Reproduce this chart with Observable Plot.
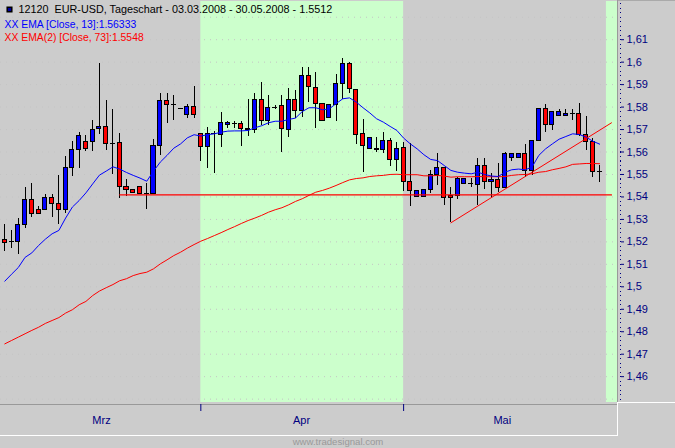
<!DOCTYPE html>
<html><head><meta charset="utf-8">
<script src="https://cdn.jsdelivr.net/npm/d3@7"></script>
<script src="https://cdn.jsdelivr.net/npm/@observablehq/plot@0.6"></script>
<style>
html,body{margin:0;padding:0;background:#ccc;overflow:hidden}
#wrap{position:relative;width:675px;height:448px;background:#ccc}
#wrap svg{position:absolute;left:0;top:0;background:transparent}
.c{position:absolute}
</style></head><body><div id="wrap">
<div class="c" style="left:617px;top:0;width:1px;height:402px;background:#999"></div>
<div class="c" style="left:618px;top:0;width:57px;height:1px;background:#aaa"></div>
<div class="c" style="left:0;top:404px;width:617px;height:1px;background:#999"></div>
<div class="c" style="left:0;top:435px;width:618px;height:1px;background:#fff"></div>
<div class="c" style="left:617px;top:402px;width:1px;height:34px;background:#fff"></div>
<div class="c" style="left:618px;top:402px;width:57px;height:1px;background:#fff"></div>
</div>
<script>
const opens=[1.5209,1.5200,1.5199,1.5274,1.5387,1.5343,1.5341,1.5396,1.5369,1.5341,1.5530,1.5610,1.5645,1.5645,1.5703,1.5712,1.5638,1.5641,1.5445,1.5432,1.5445,1.5414,1.5414,1.5628,1.5828,1.5810,1.5792,1.5766,1.5801,
1.5681,1.5623,1.5681,1.5677,1.5721,1.5728,1.5726,1.5703,1.5699,1.5832,1.5737,1.5797,1.5806,1.5699,1.5832,1.5783,1.5939,1.5886,1.5815,1.5752,1.5810,1.5904,1.5993,1.5877,1.5681,1.5614,1.5614,1.5610,1.5650,1.5564,
1.5619,1.5467,1.5401,1.5401,1.5432,1.5499,1.5530,1.5405,1.5405,1.5458,1.5458,1.5454,1.5539,1.5467,1.5476,1.5441,1.5574,1.5574,1.5592,1.5516,1.5650,1.5792,1.5721,1.5761,1.5761,1.5770,1.5770,1.5677,1.5645,1.5512];
const closes=[1.5194,1.5200,1.5276,1.5387,1.5325,1.5325,1.5396,1.5368,1.5343,1.5530,1.5610,1.5672,1.5614,1.5699,1.5712,1.5636,1.5638,1.5445,1.5432,1.5418,1.5414,1.5414,1.5628,1.5828,1.5810,1.5810,1.5792,1.5801,1.5766,
1.5622,1.5681,1.5681,1.5730,1.5730,1.5728,1.5703,1.5699,1.5832,1.5737,1.5797,1.5797,1.5703,1.5832,1.5783,1.5939,1.5890,1.5815,1.5739,1.5810,1.5904,1.5993,1.5881,1.5677,1.5628,1.5663,1.5610,1.5650,1.5565,1.5614,
1.5467,1.5427,1.5427,1.5432,1.5499,1.5530,1.5396,1.5396,1.5481,1.5481,1.5458,1.5539,1.5467,1.5476,1.5441,1.5592,1.5592,1.5592,1.5516,1.5650,1.5792,1.5721,1.5779,1.5779,1.5770,1.5770,1.5677,1.5645,1.5512,1.5512];
const highs=[1.5277,1.5251,1.5303,1.5444,1.5461,1.5358,1.5411,1.5411,1.5496,1.5580,1.5647,1.5685,1.5675,1.5740,1.5993,1.5828,1.5788,1.5681,1.5476,1.5432,1.5445,1.5458,1.5656,1.5861,1.5861,1.5850,1.5792,1.5810,1.5890,
1.5681,1.5708,1.5690,1.5774,1.5736,1.5734,1.5736,1.5832,1.5861,1.5908,1.5850,1.5806,1.5850,1.5883,1.5874,1.5975,1.5975,1.5953,1.5815,1.5810,1.5944,1.6015,1.5997,1.5877,1.5743,1.5663,1.5663,1.5685,1.5659,1.5641,
1.5641,1.5636,1.5427,1.5432,1.5518,1.5592,1.5530,1.5441,1.5485,1.5481,1.5481,1.5570,1.5570,1.5503,1.5547,1.5596,1.5592,1.5592,1.5632,1.5650,1.5792,1.5810,1.5779,1.5788,1.5788,1.5788,1.5815,1.5757,1.5659,1.5539];
const lows=[1.5157,1.5171,1.5144,1.5261,1.5309,1.5325,1.5341,1.5309,1.5277,1.5326,1.5493,1.5528,1.5604,1.5604,1.5678,1.5608,1.5499,1.5395,1.5404,1.5418,1.5414,1.5343,1.5414,1.5583,1.5726,1.5739,1.5792,1.5748,1.5748,
1.5559,1.5528,1.5506,1.5622,1.5706,1.5706,1.5626,1.5671,1.5681,1.5717,1.5717,1.5788,1.5599,1.5666,1.5748,1.5755,1.5822,1.5706,1.5739,1.5752,1.5737,1.5832,1.5859,1.5634,1.5510,1.5614,1.5599,1.5592,1.5537,1.5515,
1.5426,1.5359,1.5401,1.5401,1.5417,1.5450,1.5364,1.5285,1.5387,1.5458,1.5441,1.5364,1.5432,1.5396,1.5418,1.5441,1.5556,1.5574,1.5485,1.5494,1.5650,1.5685,1.5694,1.5761,1.5757,1.5739,1.5668,1.5605,1.5485,1.5463];
const ema13=[1.5025,1.5056,1.5086,1.5131,1.5151,1.5184,1.5212,1.5236,1.5251,1.5306,1.5355,1.5384,1.5418,1.5458,1.5497,1.5515,1.5534,1.5524,1.5509,1.5496,1.5484,1.5470,1.5515,1.5555,1.5585,1.5617,1.5636,1.5663,1.5677,
1.5671,1.5677,1.5681,1.5688,1.5693,1.5694,1.5694,1.5696,1.5708,1.5717,1.5730,1.5737,1.5737,1.5745,1.5751,1.5780,1.5797,1.5797,1.5788,1.5792,1.5815,1.5837,1.5841,1.5822,1.5797,1.5774,1.5748,1.5733,1.5714,1.5696,
1.5662,1.5636,1.5614,1.5588,1.5567,1.5562,1.5540,1.5518,1.5510,1.5506,1.5503,1.5510,1.5500,1.5493,1.5491,1.5510,1.5521,1.5524,1.5521,1.5533,1.5585,1.5614,1.5636,1.5657,1.5669,1.5681,1.5678,1.5666,1.5648,1.5635];
const ema73=[1.4746,1.4761,1.4776,1.4791,1.4806,1.4820,1.4837,1.4850,1.4863,1.4883,1.4898,1.4920,1.4935,1.4961,1.4981,1.4996,1.5010,1.5027,1.5036,1.5050,1.5059,1.5065,1.5080,1.5102,1.5120,1.5139,1.5154,1.5172,1.5188,
1.5203,1.5215,1.5228,1.5241,1.5255,1.5268,1.5282,1.5295,1.5306,1.5318,1.5332,1.5343,1.5352,1.5365,1.5380,1.5392,1.5407,1.5421,1.5429,1.5439,1.5451,1.5464,1.5476,1.5482,1.5485,1.5491,1.5494,1.5496,1.5500,1.5501,
1.5499,1.5499,1.5499,1.5494,1.5494,1.5496,1.5493,1.5488,1.5490,1.5490,1.5490,1.5491,1.5490,1.5490,1.5490,1.5491,1.5496,1.5499,1.5500,1.5503,1.5510,1.5513,1.5521,1.5527,1.5534,1.5545,1.5547,1.5549,1.5549,1.5548];
const supportX=[17,89.75], supportY=[1.5409,1.5409];
const trendX=[66,89.75], trendY=[1.5285,1.5730];
const bandStart=[29,89], bandEnd=[59,90.64];
const gridValues=[1.45,1.46,1.47,1.48,1.49,1.50,1.51,1.52,1.53,1.54,1.55,1.56,1.57,1.58,1.59,1.60,1.61,1.62];
const labelValues=[1.46,1.47,1.48,1.49,1.50,1.51,1.52,1.53,1.54,1.55,1.56,1.57,1.58,1.59,1.60,1.61];
const monthNames=["Mrz","Apr","Mai"], monthMid=[14.3,43.9,73.6], monthTicks=[29,59];
const title="12120  EUR-USD, Tageschart - 03.03.2008 - 30.05.2008 - 1.5512";
const legendBlue="XX EMA [Close, 13]:1.56333", legendRed="XX EMA(2) [Close, 73]:1.5548";
const credit="www.tradesignal.com";

const candles=opens.map((o,i)=>({i,o,c:closes[i],h:highs[i],l:lows[i]}));
const bodies=candles.filter(d=>d.o!==d.c), dojis=candles.filter(d=>d.o===d.c);
const half=0.3, font="'Liberation Sans',Arial,sans-serif";
const minor=d3.range(1.45,1.627,0.002);
const seq=ema13.map((_,i)=>i);
const label=(t,dx,dy,fill,size)=>Plot.text([t],{frameAnchor:"top-left",dx,dy,fill,fontSize:size,textAnchor:"start",lineAnchor:"middle",fontFamily:font});

const chart=Plot.plot({
  width:675,height:448,marginLeft:0,marginRight:58,marginTop:1,marginBottom:46,
  style:{background:"transparent",fontFamily:font},
  x:{domain:[-0.636,90.64],axis:null},
  y:{domain:[1.4485,1.627],axis:null},
  marks:[
    Plot.rect(bandStart,{x1:d=>d,x2:(d,i)=>bandEnd[i],fill:"#ccffcc"}),
    Plot.ruleY(gridValues,{stroke:"#c4c4c4",strokeDasharray:"1,5"}),
    Plot.ruleX(candles,{x:"i",y1:"l",y2:"h",stroke:"black",strokeWidth:1,shapeRendering:"crispEdges"}),
    Plot.rect(bodies,{x1:d=>d.i-half,x2:d=>d.i+half,y1:"o",y2:"c",fill:d=>d.c>d.o?"#0000ff":"#ff0000",stroke:"black",strokeWidth:1,shapeRendering:"crispEdges"}),
    Plot.ruleY(dojis,{y:"c",x1:d=>d.i-0.37,x2:d=>d.i+0.37,stroke:"black",strokeWidth:1,shapeRendering:"crispEdges"}),
    Plot.line(seq,{x:d=>d,y:d=>ema73[d],stroke:"#ff0000",strokeWidth:1}),
    Plot.line(seq,{x:d=>d,y:d=>ema13[d],stroke:"#0000ff",strokeWidth:1}),
    Plot.line(supportX,{x:d=>d,y:(d,i)=>supportY[i],stroke:"#ff0000",strokeWidth:1.2}),
    Plot.line(trendX,{x:d=>d,y:(d,i)=>trendY[i],stroke:"#ff0000",strokeWidth:1}),
    Plot.dot(minor,{y:d=>d,frameAnchor:"right",dx:3,symbol:"square",r:0.6,fill:"#000080",shapeRendering:"crispEdges"}),
    Plot.axisY(labelValues,{anchor:"right",tickSize:3,tickPadding:3,dx:3,stroke:"#000080",color:"#000080",fill:"#000080",fontSize:11,
      tickFormat:d=>String(+d.toFixed(2)).replace(".",","),label:null}),
    Plot.ruleX(monthTicks,{x:d=>d,y1:1.4485,y2:1.4485,stroke:"#000080",insetBottom:-9,insetTop:2}),
    Plot.text(monthNames,{x:(d,i)=>monthMid[i],frameAnchor:"bottom",dy:21,fill:"#000080",fontSize:11,fontFamily:font}),
    Plot.dot([0],{frameAnchor:"top-left",dx:9,dy:8,symbol:"square",r:2.6,fill:"#0000a0",stroke:"black"}),
    label(title,18,8,"black",10.8),
    label(legendBlue,4,23,"#0000ff",10.4),
    label(legendRed,4,36,"#ff0000",10.4),
    Plot.text([credit],{frameAnchor:"bottom",dx:29,dy:42,fill:"#999",fontSize:9.6,fontFamily:font})
  ]
});
document.getElementById("wrap").appendChild(chart);
</script></body></html>
